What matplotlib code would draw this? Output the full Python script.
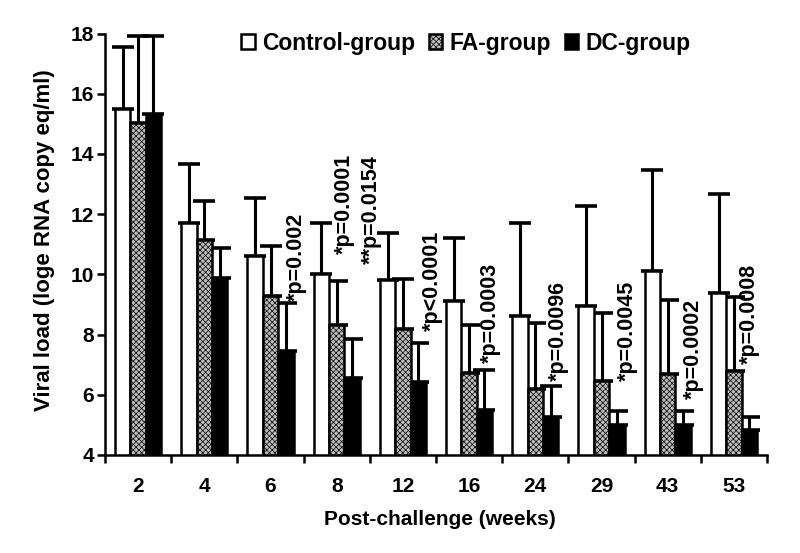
import matplotlib
matplotlib.use("Agg")
import matplotlib.pyplot as plt
import numpy as np
from matplotlib.patches import Patch

plt.rcParams['font.family'] = ['Liberation Sans', 'DejaVu Sans']

weeks = ["2", "4", "6", "8", "12", "16", "24", "29", "43", "53"]
control_mean = [15.50, 11.70, 10.60, 10.00, 9.82, 9.13, 8.63, 8.96, 10.11, 9.38]
control_top = [17.55, 13.65, 12.55, 11.72, 11.38, 11.20, 11.72, 12.28, 13.46, 12.68]
fa_mean = [15.02, 11.13, 9.28, 8.33, 8.17, 6.72, 6.20, 6.47, 6.69, 6.79]
fa_top = [17.92, 12.42, 10.94, 9.77, 9.85, 8.31, 8.39, 8.70, 9.14, 9.25]
dc_mean = [15.32, 9.88, 7.46, 6.57, 6.44, 5.48, 5.27, 5.00, 4.99, 4.84]
dc_top = [17.92, 10.89, 9.04, 7.85, 7.73, 6.82, 6.28, 5.46, 5.46, 5.27]

p_labels = ["*p=0.002", "*p=0.0001", "**p=0.0154", "*p<0.0001", "*p=0.0003",
            "*p=0.0096", "*p=0.0045", "*p=0.0002", "*p=0.0008"]
p_groups = [2, 3, 3, 4, 5, 6, 7, 8, 9]
# layout of annotation anchors (x offset from group centre, y base)
p_dx = [0.39, 0.11, 0.53, 0.44, 0.32, 0.35, 0.39, 0.39, 0.24]
p_y = [9.12, 10.68, 10.35, 8.12, 7.05, 6.45, 6.45, 5.85, 7.02]

fig = plt.figure(figsize=(8.0, 5.53), dpi=100)
ax = fig.add_axes([105/800, 1-455/553, 662/800, 421.5/553])

x = np.arange(len(weeks))
w = 0.232
lw = 1.8
plt.rcParams['hatch.linewidth'] = 0.5
series = [
    (control_mean, control_top, dict(facecolor='white', hatch=None), -w, "Control-group"),
    (fa_mean, fa_top, dict(facecolor='#bdbdbd', hatch='xxxxxx'), 0.0, "FA-group"),
    (dc_mean, dc_top, dict(facecolor='black', hatch=None), w, "DC-group"),
]
base = 4.0
handles = []
for mean, top, style, off, name in series:
    mean = np.array(mean)
    top = np.array(top)
    ax.bar(x + off, mean - base, width=w, bottom=base, edgecolor='black',
           linewidth=lw, zorder=3, **style)
    ax.errorbar(x + off, mean, yerr=[np.zeros_like(mean), top - mean], fmt='none',
                ecolor='black', elinewidth=2.2, capsize=8, capthick=2.6, zorder=2)
    handles.append(Patch(edgecolor='black', linewidth=1.8, label=name, **style))

for lab, g, dx, yb in zip(p_labels, p_groups, p_dx, p_y):
    ax.text(g + dx, yb, lab, rotation=90, ha='center', va='bottom',
            fontsize=15.5, fontweight='bold', zorder=5)

ax.set_xlim(-0.5, len(weeks) - 0.5)
ax.set_ylim(4, 18)
ax.set_yticks(np.arange(4, 19, 2))
ax.set_xticks(np.arange(-0.5, len(weeks), 1.0))
ax.set_xticklabels([])
ax.set_xticks(x, minor=True)
ax.set_xticklabels(weeks, minor=True, fontsize=15, fontweight='bold')
ax.tick_params(axis='x', which='minor', length=0, pad=16)
ax.tick_params(axis='x', which='major', length=6, width=lw, direction='out')
ax.tick_params(axis='y', length=6, width=lw, direction='out', pad=2)
for t in ax.get_yticklabels():
    t.set_fontsize(15)
    t.set_fontweight('bold')

for s in ['top', 'right']:
    ax.spines[s].set_visible(False)
for s in ['left', 'bottom']:
    ax.spines[s].set_linewidth(lw)

ax.set_ylabel("Viral load (loge RNA copy eq/ml)", fontsize=16, fontweight='bold')
ax.yaxis.set_label_coords(-0.075, 0.51)
ax.set_xlabel("Post-challenge (weeks)", fontsize=15, fontweight='bold')
ax.xaxis.set_label_coords(0.506, -0.13)

ax.legend(handles=handles, loc='center', bbox_to_anchor=(0.545, 0.977), ncol=3,
          frameon=False, handlelength=0.6, handleheight=0.6, handletextpad=0.3,
          columnspacing=0.6, prop=dict(size=16.5, weight='bold'), borderaxespad=0)

fig.savefig("out.png", dpi=100)
